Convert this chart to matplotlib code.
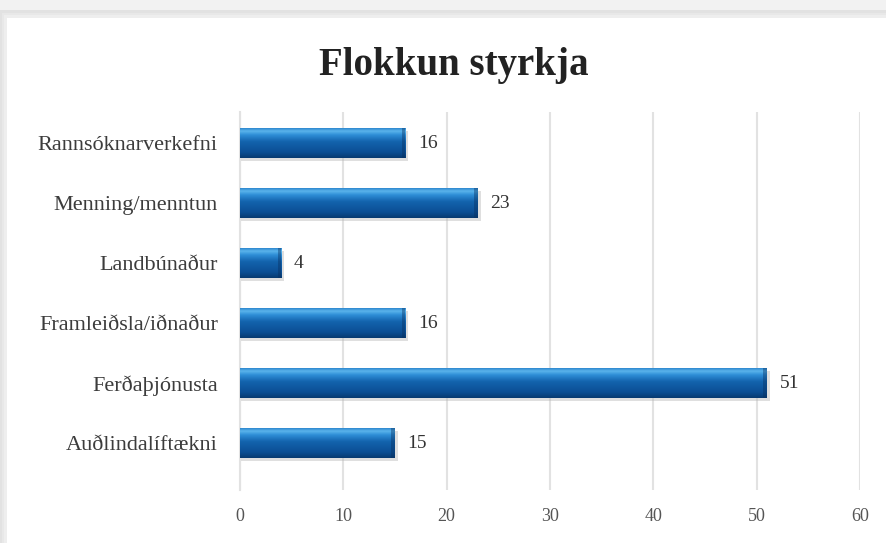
import matplotlib
matplotlib.use("Agg")
import matplotlib.pyplot as plt
import numpy as np
from matplotlib.patches import Rectangle
from matplotlib.colors import LinearSegmentedColormap

categories = ["Auðlindalíftækni", "Ferðaþjónusta", "Framleiðsla/iðnaður",
              "Landbúnaður", "Menning/menntun", "Rannsóknarverkefni"]
values = [15, 51, 16, 4, 23, 16]
xticks = [0, 10, 20, 30, 40, 50, 60]
title = "Flokkun styrkja"

plt.rcParams['font.family'] = ['Liberation Serif', 'DejaVu Serif']

fig = plt.figure(figsize=(8.87, 5.43), dpi=100)
fig.patch.set_facecolor('#f2f2f2')

# card with shadow
for i, c in enumerate(['#e2e2e2', '#e8e8e8', '#eeeeee']):
    off = (3 - i) * 0.003
    fig.patches.append(Rectangle((7/887 - off, 0), 1, (543-18)/543 + off*1.6,
                                 transform=fig.transFigure, facecolor=c,
                                 edgecolor='none', zorder=-10))
fig.patches.append(Rectangle((7/887, 0), 1, (543-18)/543, transform=fig.transFigure,
                             facecolor='white', edgecolor='none', zorder=-9))

ax = fig.add_axes([240/887, 53/543, 620/887, 378/543], zorder=5)
ax.set_facecolor('none')

y = np.arange(len(categories))
bars = ax.barh(y, values, height=0.5, color='#135fa8', zorder=3)

cmap = LinearSegmentedColormap.from_list('cyl', [
    (0.0, '#083a70'), (0.2, '#0c4f95'), (0.55, '#1363ad'),
    (0.78, '#2f8fd8'), (0.9, '#5cb5ec'), (1.0, '#2a84cc')])
grad = np.linspace(0, 1, 256).reshape(-1, 1)

for b in bars:
    x0, y0 = b.get_x(), b.get_y()
    w, h = b.get_width(), b.get_height()
    # drop shadow
    sh = Rectangle((x0, y0 - 0.04), w + 0.3, h, facecolor='#b0b0b0', alpha=0.4,
                   edgecolor='none', zorder=2)
    ax.add_patch(sh)
    im = ax.imshow(grad, extent=[x0, x0 + w, y0, y0 + h], origin='lower',
                   cmap=cmap, aspect='auto', zorder=4, interpolation='bicubic')
    im.set_clip_path(b)
    # dark end cap
    ax.add_patch(Rectangle((x0 + w - 0.35, y0), 0.35, h, facecolor='#082f5e',
                           alpha=0.4, edgecolor='none', zorder=5))

for yi, v in zip(y, values):
    ax.text(v + 1.2, yi, str(v), va='center', ha='left', fontsize=14,
            color='#333333', zorder=6)

ax.set_xlim(0, 60)
ax.set_ylim(-0.78, 5.52)
ax.set_xticks(xticks)
ax.set_xticklabels([str(t) for t in xticks], fontsize=13, color='#555555')
ax.set_yticks(y)
ax.set_yticklabels(categories, fontsize=16, color='#3c3c3c')
ax.tick_params(axis='both', length=0)
ax.tick_params(axis='x', pad=13)
ax.tick_params(axis='y', pad=16)
ax.grid(axis='x', color='#e2e2e2', linewidth=1.5, zorder=1)
for s in ['top', 'right', 'bottom']:
    ax.spines[s].set_visible(False)
ax.spines['left'].set_color('#e2e2e2')
ax.spines['left'].set_linewidth(1.5)
ax.set_xlim(0, 60)
ax.set_ylim(-0.78, 5.52)

fig.text(454/887, (543-65)/543, title, ha='center', va='center', fontsize=28,
         fontweight='bold', color='#222222')

fig.savefig('out.png', dpi=100, facecolor=fig.get_facecolor())
